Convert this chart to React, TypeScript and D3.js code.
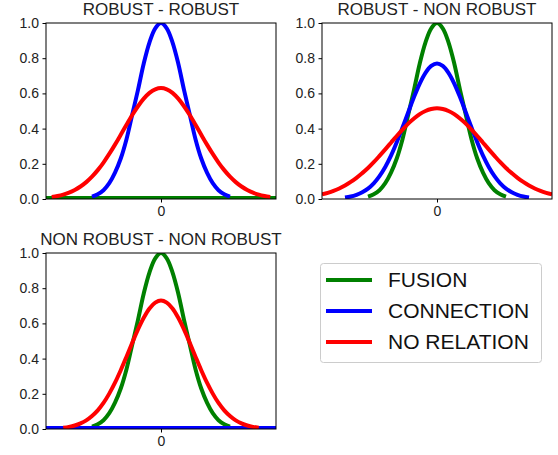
import React, { useEffect, useRef } from 'react';
import * as d3 from 'd3';

// shared x grid (axis units, 0 = centre tick)
const gridX = [
  -1.0, -0.95, -0.9, -0.85, -0.8, -0.75, -0.7, -0.65, -0.6, -0.55, -0.5,
  -0.45, -0.4, -0.35, -0.3, -0.25, -0.2, -0.15, -0.1, -0.05, 0,
  0.05, 0.1, 0.15, 0.2, 0.25, 0.3, 0.35, 0.4, 0.45, 0.5,
  0.55, 0.6, 0.65, 0.7, 0.75, 0.8, 0.85, 0.9, 0.95, 1.0,
];

const _ = null;

// ROBUST - ROBUST
const rrFusion = [
  0.005, 0.005, 0.005, 0.005, 0.005, 0.005, 0.005, 0.005, 0.005, 0.005, 0.005, 0.005, 0.005, 0.005, 0.005, 0.005, 0.005, 0.005, 0.005, 0.005, 0.005,
  0.005, 0.005, 0.005, 0.005, 0.005, 0.005, 0.005, 0.005, 0.005, 0.005, 0.005, 0.005, 0.005, 0.005, 0.005, 0.005, 0.005, 0.005, 0.005, 0.005,
];
const rrConnection = [
  _, _, _, _, _, _, _, _, 0.014, 0.027, 0.05, 0.09, 0.15, 0.23, 0.34, 0.48, 0.62, 0.77, 0.89, 0.97, 1.0,
  0.97, 0.89, 0.77, 0.62, 0.48, 0.34, 0.23, 0.15, 0.09, 0.05, 0.027, 0.014, _, _, _, _, _, _, _, _,
];
const rrNoRelation = [
  _, 0.011, 0.017, 0.025, 0.036, 0.051, 0.071, 0.096, 0.127, 0.164, 0.207, 0.256, 0.309, 0.365, 0.422, 0.477, 0.527, 0.57, 0.603, 0.623, 0.63,
  0.623, 0.603, 0.57, 0.527, 0.477, 0.422, 0.365, 0.309, 0.256, 0.207, 0.164, 0.127, 0.096, 0.071, 0.051, 0.036, 0.025, 0.017, 0.011, _,
];

// ROBUST - NON ROBUST
const rnFusion = [
  _, _, _, _, _, _, _, _, 0.014, 0.027, 0.05, 0.09, 0.15, 0.23, 0.34, 0.48, 0.62, 0.77, 0.89, 0.97, 1.0,
  0.97, 0.89, 0.77, 0.62, 0.48, 0.34, 0.23, 0.15, 0.09, 0.05, 0.027, 0.014, _, _, _, _, _, _, _, _,
];
const rnConnection = [
  _, _, _, _, 0.008, 0.014, 0.024, 0.038, 0.059, 0.089, 0.13, 0.182, 0.246, 0.322, 0.406, 0.493, 0.579, 0.656, 0.717, 0.756, 0.77,
  0.756, 0.717, 0.656, 0.579, 0.493, 0.406, 0.322, 0.246, 0.182, 0.13, 0.089, 0.059, 0.038, 0.024, 0.014, 0.008, _, _, _, _,
];
const rnNoRelation = [
  0.026, 0.035, 0.046, 0.06, 0.077, 0.097, 0.12, 0.147, 0.176, 0.209, 0.245, 0.282, 0.32, 0.358, 0.394, 0.428, 0.457, 0.482, 0.5, 0.511, 0.515,
  0.511, 0.5, 0.482, 0.457, 0.428, 0.394, 0.358, 0.32, 0.282, 0.245, 0.209, 0.176, 0.147, 0.12, 0.097, 0.077, 0.06, 0.046, 0.035, 0.026,
];

// NON ROBUST - NON ROBUST
const nnFusion = [
  _, _, _, _, _, _, _, _, 0.014, 0.027, 0.05, 0.09, 0.15, 0.23, 0.34, 0.48, 0.62, 0.77, 0.89, 0.97, 1.0,
  0.97, 0.89, 0.77, 0.62, 0.48, 0.34, 0.23, 0.15, 0.09, 0.05, 0.027, 0.014, _, _, _, _, _, _, _, _,
];
const nnConnection = [
  0.005, 0.005, 0.005, 0.005, 0.005, 0.005, 0.005, 0.005, 0.005, 0.005, 0.005, 0.005, 0.005, 0.005, 0.005, 0.005, 0.005, 0.005, 0.005, 0.005, 0.005,
  0.005, 0.005, 0.005, 0.005, 0.005, 0.005, 0.005, 0.005, 0.005, 0.005, 0.005, 0.005, 0.005, 0.005, 0.005, 0.005, 0.005, 0.005, 0.005, 0.005,
];
const nnNoRelation = [
  _, _, _, 0.007, 0.012, 0.02, 0.032, 0.049, 0.074, 0.106, 0.148, 0.201, 0.263, 0.334, 0.411, 0.49, 0.566, 0.632, 0.685, 0.718, 0.73,
  0.718, 0.685, 0.632, 0.566, 0.49, 0.411, 0.334, 0.263, 0.201, 0.148, 0.106, 0.074, 0.049, 0.032, 0.02, 0.012, 0.007, _, _, _,
];

const seriesNames = ['FUSION', 'CONNECTION', 'NO RELATION'];
const seriesColors = ['green', 'blue', 'red'];
const yTicks = [0, 0.2, 0.4, 0.6, 0.8, 1.0];
const xTicks = [0];

const panels = [
  { title: 'ROBUST - ROBUST', series: [rrFusion, rrConnection, rrNoRelation], left: 46, top: 23 },
  { title: 'ROBUST - NON ROBUST', series: [rnFusion, rnConnection, rnNoRelation], left: 322, top: 23 },
  { title: 'NON ROBUST - NON ROBUST', series: [nnFusion, nnConnection, nnNoRelation], left: 46, top: 253 },
];

const App = () => {
  const svgRef = useRef(null);

  useEffect(() => {
    const W = 558, H = 455;
    const pw = 230, ph = 176;
    const font = 'Liberation Sans, Arial, sans-serif';
    const svg = d3.select(svgRef.current).html('')
      .attr('width', W).attr('height', H)
      .style('font-family', font);

    svg.append('rect').attr('width', W).attr('height', H).attr('fill', 'white');

    const x = d3.scaleLinear().domain([-1, 1]).range([0, pw]);
    const y = d3.scaleLinear().domain([0, 1]).range([ph, 0]);

    panels.forEach((p, pi) => {
      const g = svg.append('g').attr('transform', `translate(${p.left},${p.top})`);
      const clipId = 'clip' + pi;
      g.append('clipPath').attr('id', clipId)
        .append('rect').attr('width', pw).attr('height', ph);

      const line = d3.line()
        .defined((d) => d[1] != null)
        .x((d) => x(d[0]))
        .y((d) => y(d[1]))
        .curve(d3.curveCatmullRom.alpha(0.5));

      const lines = g.append('g').attr('clip-path', `url(#${clipId})`);
      p.series.forEach((vals, si) => {
        const pts = gridX.map((xv, i) => [xv, vals[i]]);
        lines.append('path')
          .attr('d', line(pts))
          .attr('fill', 'none')
          .attr('stroke', seriesColors[si])
          .attr('stroke-width', 4);
      });

      // frame
      g.append('rect')
        .attr('x', 0).attr('y', 0).attr('width', pw).attr('height', ph)
        .attr('fill', 'none').attr('stroke', 'black').attr('stroke-width', 1);

      const ya = g.append('g')
        .call(d3.axisLeft(y).tickValues(yTicks).tickFormat(d3.format('.1f')).tickSize(3.5).tickPadding(3.5));
      ya.select('.domain').remove();
      ya.selectAll('text').style('font-family', font).style('font-size', '14px').attr('fill', '#222');

      const xa = g.append('g').attr('transform', `translate(0,${ph})`)
        .call(d3.axisBottom(x).tickValues(xTicks).tickFormat(d3.format('d')).tickSize(3.5).tickPadding(3.5));
      xa.select('.domain').remove();
      xa.selectAll('text').style('font-family', font).style('font-size', '14px').attr('fill', '#222');

      g.append('text')
        .attr('x', pw / 2).attr('y', -8)
        .attr('text-anchor', 'middle')
        .style('font-size', '17px')
        .attr('fill', '#222')
        .text(p.title);
    });

    // legend
    const lg = svg.append('g').attr('transform', 'translate(320,263)');
    lg.append('rect')
      .attr('x', 0.5).attr('y', 0.5).attr('width', 221).attr('height', 99)
      .attr('rx', 3).attr('fill', 'white').attr('stroke', '#cccccc');
    seriesNames.forEach((name, i) => {
      const row = lg.append('g').attr('transform', `translate(0,${17 + i * 31})`);
      row.append('line').attr('x1', 6).attr('x2', 52).attr('y1', 0).attr('y2', 0)
        .attr('stroke', seriesColors[i]).attr('stroke-width', 4);
      row.append('text').attr('x', 68).attr('y', 0).attr('dy', '0.35em')
        .style('font-size', '21px').attr('fill', '#111').text(name);
    });
  }, []);

  return <svg ref={svgRef} style={{ position: 'absolute', left: 0, top: 0 }} />;
};

export default App;
